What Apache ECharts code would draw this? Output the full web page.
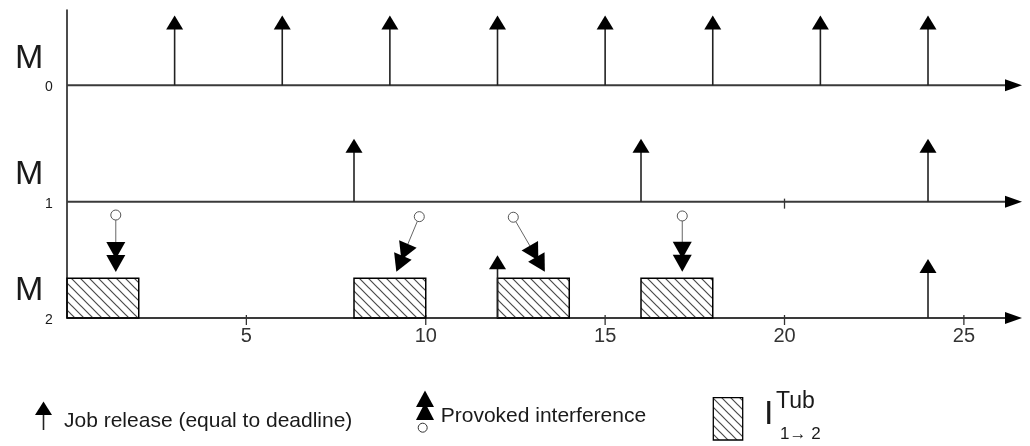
<!DOCTYPE html>
<html><head><meta charset="utf-8">
<script src="https://cdn.jsdelivr.net/npm/echarts@6/dist/echarts.min.js"></script>
<style>html,body{margin:0;padding:0;background:#fff}#c{width:1030px;height:446px}</style>
</head><body><div id="c"></div>
<script>
// ---------- data ----------
const rowSubscripts = ['0', '1', '2'];
const rowLevels = [2, 1, 0];
const tickLabels = ['5', '10', '15', '20', '25'];
const tickValues = [5, 10, 15, 20, 25];
const extraTickM1 = [20];
const releaseM0 = [3, 6, 9, 12, 15, 18, 21, 24];
const releaseTopM0 = [0.6, 0.6, 0.6, 0.6, 0.6, 0.6, 0.6, 0.6];
const releaseM1 = [8, 16, 24];
const releaseTopM1 = [0.54, 0.54, 0.54];
const releaseM2 = [12, 24];
const releaseTopM2 = [0.54, 0.507];
const blockStart = [0, 8, 12, 16];
const blockEnd = [2, 10, 14, 18];
const blockTop = [0.341, 0.341, 0.341, 0.341];
const interfFromX = [1.36, 9.82, 12.44, 17.15];
const interfFromY = [0.885, 0.871, 0.866, 0.877];
const interfToX = [1.36, 9.18, 13.32, 17.15];
const interfToY = [0.395, 0.398, 0.398, 0.398];
const legendTexts = ['Job release (equal to deadline)', 'Provoked interference'];

const X_MAX = 26.62, Y_MAX = 2.647;
const FONT = '"Liberation Sans", Arial, sans-serif';

function hatchCanvas() {
  const s = 9, c = document.createElement('canvas');
  c.width = s; c.height = s;
  const g = c.getContext('2d');
  g.strokeStyle = '#4a4a4a'; g.lineWidth = 1.2;
  g.beginPath();
  g.moveTo(-1, -1); g.lineTo(s + 1, s + 1);
  g.moveTo(-2, s - 2); g.lineTo(2, s + 2);
  g.moveTo(s - 2, -2); g.lineTo(s + 2, 2);
  g.stroke();
  return c;
}
const HATCH = { image: hatchCanvas(), repeat: 'repeat' };

const releaseData = [];
releaseM0.forEach((x, i) => releaseData.push([x, rowLevels[0], releaseTopM0[i]]));
releaseM1.forEach((x, i) => releaseData.push([x, rowLevels[1], releaseTopM1[i]]));
releaseM2.forEach((x, i) => releaseData.push([x, rowLevels[2], releaseTopM2[i]]));
const tickData = tickValues.map(v => [v, rowLevels[2]]).concat(extraTickM1.map(v => [v, rowLevels[1]]));
const blockData = blockStart.map((s, i) => [s, blockEnd[i], rowLevels[2], blockTop[i]]);
const interfData = interfFromX.map((x, i) => [x, interfFromY[i], interfToX[i], interfToY[i]]);

function renderBaseline(params, api) {
  const a = api.coord([0, api.value(1)]);
  const b = api.coord([X_MAX, api.value(1)]);
  return { type: 'group', children: [
    { type: 'line', shape: { x1: a[0], y1: a[1], x2: b[0] - 14, y2: b[1] }, style: { stroke: '#3a3a3a', lineWidth: 2 } },
    { type: 'polygon', shape: { points: [[b[0], b[1]], [b[0] - 17, b[1] - 6], [b[0] - 17, b[1] + 6]] }, style: { fill: '#000' } }
  ]};
}
function renderTick(params, api) {
  const p = api.coord([api.value(0), api.value(1)]);
  return { type: 'line', shape: { x1: p[0], y1: p[1] - 3, x2: p[0], y2: p[1] + 7 }, style: { stroke: '#333', lineWidth: 1.3 } };
}
function renderBlock(params, api) {
  const s = api.coord([api.value(0), api.value(2)]);
  const e = api.coord([api.value(1), api.value(2) + api.value(3)]);
  return { type: 'rect', shape: { x: s[0], y: e[1], width: e[0] - s[0], height: s[1] - e[1] },
    style: { fill: HATCH, stroke: '#000', lineWidth: 1.5 } };
}
function renderRelease(params, api) {
  const b = api.coord([api.value(0), api.value(1)]);
  const t = api.coord([api.value(0), api.value(1) + api.value(2)]);
  return { type: 'group', children: [
    { type: 'line', shape: { x1: b[0], y1: b[1], x2: t[0], y2: t[1] + 10 }, style: { stroke: '#222', lineWidth: 1.6 } },
    { type: 'polygon', shape: { points: [[t[0], t[1]], [t[0] - 8.5, t[1] + 14], [t[0] + 8.5, t[1] + 14]] }, style: { fill: '#000' } }
  ]};
}
function renderInterf(params, api) {
  const p0 = api.coord([api.value(0), api.value(1)]);
  const p1 = api.coord([api.value(2), api.value(3)]);
  let dx = p1[0] - p0[0], dy = p1[1] - p0[1];
  const L = Math.hypot(dx, dy); dx /= L; dy /= L;
  const nx = -dy, ny = dx;
  const pt = (d, w) => [p1[0] - dx * d + nx * w, p1[1] - dy * d + ny * w];
  const tri = (d) => [pt(d, 0), pt(d + 17, 9.5), pt(d + 17, -9.5)];
  return { type: 'group', children: [
    { type: 'line', shape: { x1: p0[0] + dx * 5, y1: p0[1] + dy * 5, x2: pt(29, 0)[0], y2: pt(29, 0)[1] }, style: { stroke: '#666', lineWidth: 1 } },
    { type: 'polygon', shape: { points: tri(13) }, style: { fill: '#000' } },
    { type: 'polygon', shape: { points: tri(0) }, style: { fill: '#000' } },
    { type: 'circle', shape: { cx: p0[0], cy: p0[1], r: 5 }, style: { fill: '#fff', stroke: '#555', lineWidth: 1 } }
  ]};
}
function renderRowLabel(params, api) {
  const p = api.coord([0, api.value(1)]);
  return { type: 'group', children: [
    { type: 'text', x: p[0] - 52, y: p[1] - 27, style: { text: 'M', fontSize: 34, fontFamily: FONT, fill: '#1a1a1a', align: 'left', verticalAlign: 'middle' } },
    { type: 'text', x: p[0] - 18, y: p[1] + 2, style: { text: rowSubscripts[params.dataIndex], fontSize: 14, fontFamily: FONT, fill: '#1a1a1a', align: 'center', verticalAlign: 'middle' } }
  ]};
}

function txt(x, y, text, size) {
  return { type: 'text', x: x, y: y, style: { text: text, fontSize: size, fontFamily: FONT, fill: '#1a1a1a',
    align: 'left', verticalAlign: 'middle', textAlign: 'left', textVerticalAlign: 'middle' } };
}

const chart = echarts.init(document.getElementById('c'), null, { renderer: 'canvas' });
chart.setOption({
  animation: false,
  backgroundColor: '#fff',
  grid: { left: 67, right: 8, top: 10, bottom: 128 },
  xAxis: {
    type: 'value', min: 0, max: X_MAX,
    axisLine: { show: false }, axisTick: { show: false }, splitLine: { show: false },
    axisLabel: { customValues: tickValues, formatter: v => tickLabels[tickValues.indexOf(v)] || '',
      fontSize: 20, fontFamily: FONT, color: '#333', margin: 8 }
  },
  yAxis: {
    type: 'value', min: 0, max: Y_MAX,
    axisLine: { show: true, onZero: false, lineStyle: { color: '#111', width: 1.5 } },
    axisTick: { show: false }, axisLabel: { show: false }, splitLine: { show: false }
  },
  graphic: [
    { type: 'line', shape: { x1: 43.5, y1: 430, x2: 43.5, y2: 410 }, style: { stroke: '#222', lineWidth: 1.6 } },
    { type: 'polygon', shape: { points: [[43.5, 401.5], [35, 415], [52, 415]] }, style: { fill: '#000' } },
    txt(64, 421, legendTexts[0], 21),
    { type: 'polygon', shape: { points: [[425, 390.5], [416, 407], [434, 407]] }, style: { fill: '#000' } },
    { type: 'polygon', shape: { points: [[425, 402.5], [416, 420], [434, 420]] }, style: { fill: '#000' } },
    { type: 'circle', shape: { cx: 422.7, cy: 427.7, r: 4.5 }, style: { fill: '#fff', stroke: '#333', lineWidth: 1 } },
    txt(440.7, 416.7, legendTexts[1], 21),
    { type: 'rect', shape: { x: 713.3, y: 397.7, width: 29.4, height: 42.3 }, style: { fill: HATCH, stroke: '#000', lineWidth: 1.3 } },
    txt(764, 415, 'I', 34),
    txt(776, 402, 'Tub', 23),
    txt(780, 434.5, '1→ 2', 17)
  ],
  series: [
    { type: 'custom', name: 'baselines', renderItem: renderBaseline, data: rowLevels.map(l => [0, l]), encode: { x: 0, y: 1 }, clip: false, silent: true },
    { type: 'custom', name: 'ticks', renderItem: renderTick, data: tickData, encode: { x: 0, y: 1 }, clip: false, silent: true },
    { type: 'custom', name: 'blocks', renderItem: renderBlock, data: blockData, encode: { x: [0, 1], y: [2, 3] }, clip: false, silent: true },
    { type: 'custom', name: 'releases', renderItem: renderRelease, data: releaseData, encode: { x: 0, y: 1 }, clip: false, silent: true },
    { type: 'custom', name: 'interference', renderItem: renderInterf, data: interfData, encode: { x: [0, 2], y: [1, 3] }, clip: false, silent: true },
    { type: 'custom', name: 'rows', renderItem: renderRowLabel, data: rowLevels.map(l => [0, l]), encode: { x: 0, y: 1 }, clip: false, silent: true }
  ]
});
</script>
</body></html>
